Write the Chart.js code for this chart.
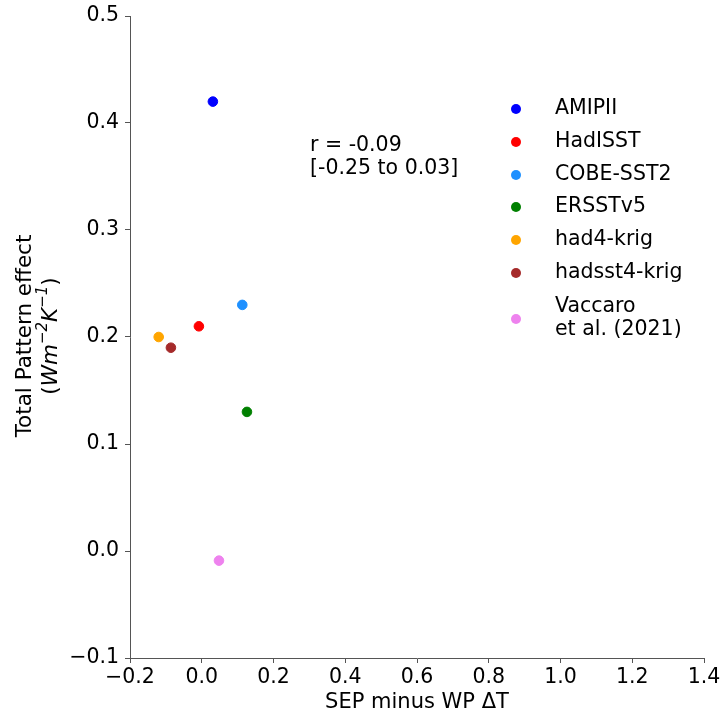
<!DOCTYPE html>
<html>
<head>
<meta charset="utf-8">
<script src="https://cdn.jsdelivr.net/npm/chart.js@4/dist/chart.umd.min.js"></script>
<style>
    html, body { margin: 0; padding: 0; background: #fff; }
    #wrap { width: 721px; height: 716px; }
</style>
</head>
<body>
<div id="wrap"><canvas id="scatter"></canvas></div>
<script>
// ── DATA ─────────────────────────────────────────────

var names   = ['AMIPII', 'HadISST', 'COBE-SST2', 'ERSSTv5', 'had4-krig', 'hadsst4-krig', ['Vaccaro', 'et al. (2021)']];
var xValues = [0.031, -0.008, 0.113, 0.126, -0.120, -0.086, 0.048];
var yValues = [0.420, 0.210, 0.230, 0.130, 0.200, 0.190, -0.009];
var colors  = ['#0000ff', '#ff0000', '#1e90ff', '#008000', '#ffa500', '#a52a2a', '#ee82ee'];

var xTicks = [-0.2, 0.0, 0.2, 0.4, 0.6, 0.8, 1.0, 1.2, 1.4];
var yTicks = [-0.1, 0.0, 0.1, 0.2, 0.3, 0.4, 0.5];

var noteLines = ['r = -0.09', '[-0.25 to 0.03]'];

var FONT = '"DejaVu Sans", sans-serif';
var TXT  = 20.5;

// ── DATASETS ─────────────────────────────────────────

var datasets = [];
for (var i = 0; i < names.length; i++) {
    datasets.push({
        label: names[i],
        data: [{ x: xValues[i], y: yValues[i] }],
        backgroundColor: colors[i],
        borderColor: colors[i],
        borderWidth: 1,
        pointRadius: 4.8,
        pointHoverRadius: 4.8
    });
}

function fmt(v) {
    return v.toFixed(1).replace('-', '\u2212');
}

// ── EXTRA DRAWING: legend, note, axis titles ─────────

var extras = {
    id: 'extras',
    afterDraw: function(chart) {
        var c = chart.ctx;
        var area = chart.chartArea;
        c.save();
        c.fillStyle = '#000';
        c.textBaseline = 'middle';
        c.font = TXT + 'px ' + FONT;

        // legend
        var rowY = [109, 142, 175, 207, 240, 273, 319];
        for (var i = 0; i < names.length; i++) {
            c.beginPath();
            c.arc(516, rowY[i], 5, 0, Math.PI * 2);
            c.fillStyle = colors[i];
            c.fill();
            c.fillStyle = '#000';
            c.textAlign = 'left';
            if (Array.isArray(names[i])) {
                c.fillText(names[i][0], 555, rowY[i] - 12);
                c.fillText(names[i][1], 555, rowY[i] + 11);
            } else {
                c.fillText(names[i], 555, rowY[i]);
            }
        }

        // correlation note
        c.fillText(noteLines[0], 310, 146);
        c.fillText(noteLines[1], 310, 169);

        // x title
        c.font = '21px ' + FONT;
        c.textAlign = 'center';
        c.fillText('SEP minus WP \u0394T', (area.left + area.right) / 2, 703);

        // y title (two lines, with superscripts)
        var cy = (area.top + area.bottom) / 2;
        c.translate(25, cy - 1);
        c.rotate(-Math.PI / 2);
        c.font = '21.5px ' + FONT;
        c.fillText('Total Pattern effect', 0, 0);

        var parts = [
            ['(', 'n', 0], ['Wm', 'i', 0], ['\u22122', 'i', 1], ['K', 'i', 0], ['\u22121', 'i', 1], [')', 'n', 0]
        ];
        var widths = [];
        var total = 0;
        for (var j = 0; j < parts.length; j++) {
            var size = parts[j][2] ? 15 : 21.5;
            c.font = (parts[j][1] === 'i' ? 'italic ' : '') + size + 'px ' + FONT;
            widths.push(c.measureText(parts[j][0]).width);
            total += widths[j];
        }
        var px = -total / 2;
        c.textAlign = 'left';
        for (var j = 0; j < parts.length; j++) {
            var size = parts[j][2] ? 15 : 21.5;
            c.font = (parts[j][1] === 'i' ? 'italic ' : '') + size + 'px ' + FONT;
            c.fillText(parts[j][0], px, 26 + (parts[j][2] ? -8 : 0));
            px += widths[j];
        }
        c.restore();
    }
};

// ── CHART ────────────────────────────────────────────

var chart = new Chart(document.getElementById('scatter').getContext('2d'), {
    type: 'scatter',
    data: { datasets: datasets },
    plugins: [extras],
    options: {
        responsive: true,
        maintainAspectRatio: false,
        animation: false,
        layout: { padding: { top: 16, right: 17, left: 0, bottom: 0 } },
        plugins: {
            legend: { display: false },
            tooltip: { enabled: false }
        },
        scales: {
            x: {
                type: 'linear',
                min: -0.2,
                max: 1.4,
                afterBuildTicks: function(s) { s.ticks = xTicks.map(function(v) { return { value: v }; }); },
                afterFit: function(s) {
                    s.height = 58;
                    s.paddingLeft = 0;
                    s.paddingRight = 0;
                },
                border: { color: '#555', width: 1 },
                grid: { drawOnChartArea: false, drawTicks: true, tickLength: 5, color: '#555' },
                ticks: {
                    color: '#000',
                    padding: 2,
                    maxRotation: 0,
                    font: { family: FONT, size: TXT },
                    callback: function(v) { return fmt(v); }
                }
            },
            y: {
                type: 'linear',
                min: -0.1,
                max: 0.5,
                afterBuildTicks: function(s) { s.ticks = yTicks.map(function(v) { return { value: v }; }); },
                afterFit: function(s) {
                    s.width = 130;
                    s.paddingTop = 0;
                    s.paddingBottom = 0;
                },
                border: { color: '#555', width: 1 },
                grid: { drawOnChartArea: false, drawTicks: true, tickLength: 5, color: '#555' },
                ticks: {
                    color: '#000',
                    padding: 6,
                    font: { family: FONT, size: TXT },
                    callback: function(v) { return fmt(v); }
                }
            }
        }
    }
});
</script>
</body>
</html>
